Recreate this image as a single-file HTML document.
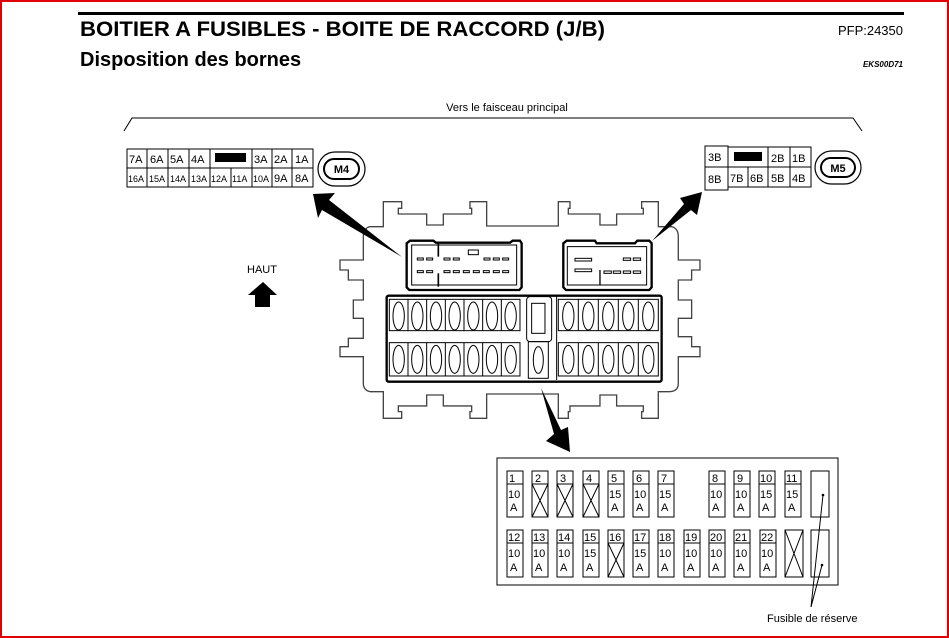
<!DOCTYPE html>
<html><head><meta charset="utf-8"><style>
html,body{margin:0;padding:0;background:#fff}
svg{display:block}
text{font-family:"Liberation Sans",sans-serif;fill:#000}
</style></head><body>
<svg width="949" height="638" viewBox="0 0 949 638" xmlns="http://www.w3.org/2000/svg">
<rect x="1" y="1" width="947" height="636" fill="#fff" stroke="#e00000" stroke-width="2"/>
<rect x="78" y="12" width="826" height="3" fill="#000"/>
<text x="80" y="36" font-size="21" font-weight="bold" textLength="525" lengthAdjust="spacingAndGlyphs">BOITIER A FUSIBLES - BOITE DE RACCORD (J/B)</text>
<text x="903" y="35" font-size="13" text-anchor="end">PFP:24350</text>
<text x="80" y="66" font-size="20" font-weight="bold">Disposition des bornes</text>
<text x="903" y="67" font-size="8" font-style="italic" font-weight="bold" text-anchor="end">EKS00D71</text>
<text x="507" y="111" font-size="11" text-anchor="middle">Vers le faisceau principal</text>
<polyline points="124,131 132,118 853,118 862,131" fill="none" stroke="#000" stroke-width="1"/>

<!-- M4 table -->
<g fill="none" stroke="#000" stroke-width="1">
<rect x="127" y="149" width="186" height="38"/>
<line x1="127" y1="168" x2="313" y2="168"/>
<line x1="147" y1="149" x2="147" y2="187"/><line x1="168" y1="149" x2="168" y2="187"/>
<line x1="189" y1="149" x2="189" y2="187"/><line x1="210" y1="149" x2="210" y2="187"/>
<line x1="231" y1="168" x2="231" y2="187"/><line x1="252" y1="149" x2="252" y2="187"/>
<line x1="272" y1="149" x2="272" y2="187"/><line x1="292" y1="149" x2="292" y2="187"/>
</g>
<rect x="215" y="153" width="31" height="9" fill="#000"/>
<g font-size="11">
<text x="129" y="163">7A</text><text x="150" y="163">6A</text><text x="170" y="163">5A</text><text x="191" y="163">4A</text>
<text x="254" y="163">3A</text><text x="274" y="163">2A</text><text x="295" y="163">1A</text>
</g>
<g font-size="9">
<text x="128" y="182">16A</text><text x="149" y="182">15A</text><text x="170" y="182">14A</text><text x="191" y="182">13A</text>
<text x="211" y="182">12A</text><text x="232" y="182">11A</text><text x="253" y="182">10A</text>
</g>
<g font-size="11"><text x="274" y="182">9A</text><text x="295" y="182">8A</text></g>
<rect x="318" y="152" width="47" height="34" rx="17" fill="none" stroke="#000" stroke-width="1.2"/>
<rect x="324" y="159" width="35" height="20" rx="10" fill="none" stroke="#000" stroke-width="2"/>
<text x="341.5" y="173" font-size="11" font-weight="bold" text-anchor="middle">M4</text>

<!-- M5 table -->
<g fill="none" stroke="#000" stroke-width="1">
<rect x="705" y="146" width="23" height="44"/>
<line x1="705" y1="167" x2="728" y2="167"/>
<rect x="728" y="147" width="83" height="40"/>
<line x1="728" y1="167" x2="811" y2="167"/>
<line x1="768" y1="147" x2="768" y2="187"/><line x1="790" y1="147" x2="790" y2="187"/>
<line x1="748" y1="167" x2="748" y2="187"/>
</g>
<rect x="734" y="152" width="28" height="9" fill="#000"/>
<g font-size="11">
<text x="708" y="161">3B</text><text x="708" y="183">8B</text>
<text x="771" y="162">2B</text><text x="792" y="162">1B</text>
<text x="730" y="182">7B</text><text x="750" y="182">6B</text><text x="771" y="182">5B</text><text x="792" y="182">4B</text>
</g>
<rect x="815" y="151" width="46" height="33" rx="16.5" fill="none" stroke="#000" stroke-width="1.2"/>
<rect x="821" y="158" width="34" height="19" rx="9.5" fill="none" stroke="#000" stroke-width="2"/>
<text x="838" y="172" font-size="11" font-weight="bold" text-anchor="middle">M5</text>

<!-- HAUT -->
<text x="262" y="273" font-size="11" text-anchor="middle">HAUT</text>
<polygon points="263,282 277,295 270,295 270,307 255,307 255,295 248,295" fill="#000"/>

<!-- Housing (drawn in 3x zoom coords) -->
<g transform="translate(330,190) scale(0.3333)" fill="none" stroke="#000">
<path stroke-width="4" stroke="#444" d="M120,110 L160,110 L160,35 L215,35 L215,55 L205,55 L205,72 L290,72 L290,105 L340,105 L340,72 L425,72 L425,55 L420,55 L420,35 L470,35 L470,108 L685,108 L685,35 L720,35 L720,55 L715,55 L715,72 L810,72 L810,105 L860,105 L860,72 L940,72 L940,55 L935,55 L935,35 L985,35 L985,110 L1025,110 Q1045,115 1045,140 L1045,210 L1110,210 L1110,240 L1085,240 L1085,270 L1045,270 L1045,330 L1085,330 L1085,385 L1045,385 L1045,440 L1085,440 L1085,470 L1110,470 L1110,500 L1045,500 L1045,580 Q1045,603 1020,605 L985,605 L985,685 L935,685 L935,665 L940,665 L940,648 L860,648 L860,615 L810,615 L810,648 L720,648 L720,665 L715,665 L715,685 L685,685 L685,612 L470,612 L470,685 L420,685 L420,665 L425,665 L425,648 L340,648 L340,615 L290,615 L290,648 L205,648 L205,665 L215,665 L215,685 L160,685 L160,605 L120,605 Q100,600 100,580 L100,500 L30,500 L30,470 L55,470 L55,445 L100,445 L100,385 L70,385 L70,330 L100,330 L100,270 L55,270 L55,240 L30,240 L30,210 L100,210 L100,140 Q100,115 120,110 Z"/>
<!-- left connector -->
<path stroke-width="7" d="M240,152 L310,152 L318,158 L540,158 L548,152 L570,152 L575,160 L575,292 L568,300 L238,300 L230,292 L230,160 Z"/>
<path stroke-width="3" d="M245,165 L560,165 L560,285 L245,285 Z"/>
<line x1="325" y1="160" x2="325" y2="200" stroke-width="5"/><line x1="325" y1="250" x2="325" y2="290" stroke-width="5"/>
<rect x="415" y="180" width="30" height="14" stroke-width="3"/>
<g stroke-width="3">
<rect x="262" y="204" width="18" height="6"/><rect x="290" y="204" width="18" height="6"/><rect x="342" y="204" width="18" height="6"/><rect x="370" y="204" width="18" height="6"/>
<rect x="462" y="204" width="18" height="6"/><rect x="490" y="204" width="18" height="6"/><rect x="518" y="204" width="18" height="6"/>
<rect x="262" y="242" width="18" height="6"/><rect x="290" y="242" width="18" height="6"/><rect x="342" y="242" width="18" height="6"/><rect x="370" y="242" width="18" height="6"/><rect x="400" y="242" width="18" height="6"/><rect x="430" y="242" width="18" height="6"/><rect x="460" y="242" width="18" height="6"/><rect x="490" y="242" width="18" height="6"/><rect x="518" y="242" width="18" height="6"/>
</g>
<!-- right connector -->
<path stroke-width="7" d="M710,152 L795,152 L800,160 L915,160 L922,152 L958,152 L965,160 L965,292 L958,300 L708,300 L700,292 L700,160 Z"/>
<path stroke-width="3" d="M712,170 L950,170 L950,285 L712,285 Z"/>
<line x1="810" y1="240" x2="810" y2="285" stroke-width="4"/>
<g stroke-width="3">
<rect x="735" y="205" width="50" height="8"/><rect x="735" y="237" width="50" height="8"/>
<rect x="880" y="204" width="22" height="7"/><rect x="910" y="204" width="22" height="7"/>
<rect x="822" y="243" width="22" height="7"/><rect x="850" y="243" width="22" height="7"/><rect x="880" y="243" width="22" height="7"/><rect x="910" y="243" width="22" height="7"/>
</g>
<!-- fuse panel -->
<rect x="170" y="317" width="825" height="258" rx="6" stroke-width="7"/>
<g stroke-width="3">
<rect x="178" y="328" width="392" height="94"/><rect x="178" y="458" width="392" height="100"/>
<rect x="685" y="328" width="300" height="94"/><rect x="685" y="458" width="300" height="100"/>
<line x1="234" y1="328" x2="234" y2="422"/><line x1="290" y1="328" x2="290" y2="422"/><line x1="346" y1="328" x2="346" y2="422"/><line x1="402" y1="328" x2="402" y2="422"/><line x1="458" y1="328" x2="458" y2="422"/><line x1="514" y1="328" x2="514" y2="422"/>
<line x1="234" y1="458" x2="234" y2="558"/><line x1="290" y1="458" x2="290" y2="558"/><line x1="346" y1="458" x2="346" y2="558"/><line x1="402" y1="458" x2="402" y2="558"/><line x1="458" y1="458" x2="458" y2="558"/><line x1="514" y1="458" x2="514" y2="558"/>
<line x1="745" y1="328" x2="745" y2="422"/><line x1="805" y1="328" x2="805" y2="422"/><line x1="865" y1="328" x2="865" y2="422"/><line x1="925" y1="328" x2="925" y2="422"/>
<line x1="745" y1="458" x2="745" y2="558"/><line x1="805" y1="458" x2="805" y2="558"/><line x1="865" y1="458" x2="865" y2="558"/><line x1="925" y1="458" x2="925" y2="558"/>
<ellipse cx="206" cy="378" rx="17" ry="42"/><ellipse cx="262" cy="378" rx="17" ry="42"/><ellipse cx="318" cy="378" rx="17" ry="42"/><ellipse cx="374" cy="378" rx="17" ry="42"/><ellipse cx="430" cy="378" rx="17" ry="42"/><ellipse cx="486" cy="378" rx="17" ry="42"/><ellipse cx="542" cy="378" rx="17" ry="42"/>
<ellipse cx="206" cy="508" rx="17" ry="42"/><ellipse cx="262" cy="508" rx="17" ry="42"/><ellipse cx="318" cy="508" rx="17" ry="42"/><ellipse cx="374" cy="508" rx="17" ry="42"/><ellipse cx="430" cy="508" rx="17" ry="42"/><ellipse cx="486" cy="508" rx="17" ry="42"/><ellipse cx="542" cy="508" rx="17" ry="42"/>
<ellipse cx="715" cy="378" rx="17" ry="42"/><ellipse cx="775" cy="378" rx="17" ry="42"/><ellipse cx="835" cy="378" rx="17" ry="42"/><ellipse cx="895" cy="378" rx="17" ry="42"/><ellipse cx="955" cy="378" rx="17" ry="42"/>
<ellipse cx="715" cy="508" rx="17" ry="42"/><ellipse cx="775" cy="508" rx="17" ry="42"/><ellipse cx="835" cy="508" rx="17" ry="42"/><ellipse cx="895" cy="508" rx="17" ry="42"/><ellipse cx="955" cy="508" rx="17" ry="42"/>
<rect x="590" y="320" width="75" height="135" rx="10"/>
<rect x="605" y="340" width="40" height="90"/>
<rect x="595" y="455" width="60" height="110"/>
<ellipse cx="625" cy="510" rx="15" ry="40"/>
<line x1="680" y1="320" x2="680" y2="570"/>
</g>
</g>

<!-- Big wedge arrows -->
<polygon points="313,194 335,193 329,200 402,257 322,210 318,218" fill="#000"/>
<polygon points="702,192 697,215 691,210 652,241 684,204 680,198" fill="#000"/>
<polygon points="570,452 546,441 554,434 541,388 561,430 568,427" fill="#000"/>

<!-- Fuse table -->
<rect x="497" y="458" width="341" height="127" fill="none" stroke="#000" stroke-width="1"/>
<g fill="none" stroke="#000" stroke-width="1">
<rect x="507" y="471" width="16" height="46"/><line x1="507" y1="484" x2="523" y2="484"/>
<rect x="532" y="471" width="16" height="46"/><line x1="532" y1="484" x2="548" y2="484"/><path d="M532,484 L548,517 M548,484 L532,517"/>
<rect x="557" y="471" width="16" height="46"/><line x1="557" y1="484" x2="573" y2="484"/><path d="M557,484 L573,517 M573,484 L557,517"/>
<rect x="583" y="471" width="16" height="46"/><line x1="583" y1="484" x2="599" y2="484"/><path d="M583,484 L599,517 M599,484 L583,517"/>
<rect x="608" y="471" width="16" height="46"/><line x1="608" y1="484" x2="624" y2="484"/>
<rect x="633" y="471" width="16" height="46"/><line x1="633" y1="484" x2="649" y2="484"/>
<rect x="658" y="471" width="16" height="46"/><line x1="658" y1="484" x2="674" y2="484"/>
<rect x="709" y="471" width="16" height="46"/><line x1="709" y1="484" x2="725" y2="484"/>
<rect x="734" y="471" width="16" height="46"/><line x1="734" y1="484" x2="750" y2="484"/>
<rect x="759" y="471" width="16" height="46"/><line x1="759" y1="484" x2="775" y2="484"/>
<rect x="785" y="471" width="16" height="46"/><line x1="785" y1="484" x2="801" y2="484"/>
<rect x="811" y="471" width="18" height="46"/>
<rect x="507" y="530" width="16" height="47"/><line x1="507" y1="543" x2="523" y2="543"/>
<rect x="532" y="530" width="16" height="47"/><line x1="532" y1="543" x2="548" y2="543"/>
<rect x="557" y="530" width="16" height="47"/><line x1="557" y1="543" x2="573" y2="543"/>
<rect x="583" y="530" width="16" height="47"/><line x1="583" y1="543" x2="599" y2="543"/>
<rect x="608" y="530" width="16" height="47"/><line x1="608" y1="543" x2="624" y2="543"/><path d="M608,543 L624,577 M624,543 L608,577"/>
<rect x="633" y="530" width="16" height="47"/><line x1="633" y1="543" x2="649" y2="543"/>
<rect x="658" y="530" width="16" height="47"/><line x1="658" y1="543" x2="674" y2="543"/>
<rect x="684" y="530" width="16" height="47"/><line x1="684" y1="543" x2="700" y2="543"/>
<rect x="709" y="530" width="16" height="47"/><line x1="709" y1="543" x2="725" y2="543"/>
<rect x="734" y="530" width="16" height="47"/><line x1="734" y1="543" x2="750" y2="543"/>
<rect x="760" y="530" width="16" height="47"/><line x1="760" y1="543" x2="776" y2="543"/>
<rect x="785" y="530" width="18" height="47"/><path d="M785,530 L803,577 M803,530 L785,577"/>
<rect x="811" y="530" width="18" height="47"/>
<path d="M823,495 L811,607 M822,565 L811,607"/>
</g>
<circle cx="823" cy="495" r="1.3" fill="#000"/><circle cx="822" cy="565" r="1.3" fill="#000"/>
<g font-size="11">
<text x="509" y="482">1</text><text x="535" y="482">2</text><text x="560" y="482">3</text><text x="586" y="482">4</text><text x="611" y="482">5</text><text x="636" y="482">6</text><text x="661" y="482">7</text>
<text x="712" y="482">8</text><text x="737" y="482">9</text><text x="760" y="482">10</text><text x="786" y="482">11</text>
<text x="508" y="498">10</text><text x="510" y="511">A</text>
<text x="609" y="498">15</text><text x="611" y="511">A</text>
<text x="634" y="498">10</text><text x="636" y="511">A</text>
<text x="659" y="498">15</text><text x="661" y="511">A</text>
<text x="710" y="498">10</text><text x="712" y="511">A</text>
<text x="735" y="498">10</text><text x="737" y="511">A</text>
<text x="760" y="498">15</text><text x="762" y="511">A</text>
<text x="786" y="498">15</text><text x="788" y="511">A</text>
<text x="508" y="541">12</text><text x="533" y="541">13</text><text x="558" y="541">14</text><text x="584" y="541">15</text><text x="609" y="541">16</text><text x="634" y="541">17</text><text x="659" y="541">18</text><text x="685" y="541">19</text><text x="710" y="541">20</text><text x="735" y="541">21</text><text x="761" y="541">22</text>
<text x="508" y="557">10</text><text x="510" y="571">A</text>
<text x="533" y="557">10</text><text x="535" y="571">A</text>
<text x="558" y="557">10</text><text x="560" y="571">A</text>
<text x="584" y="557">15</text><text x="586" y="571">A</text>
<text x="634" y="557">15</text><text x="636" y="571">A</text>
<text x="659" y="557">10</text><text x="661" y="571">A</text>
<text x="685" y="557">10</text><text x="687" y="571">A</text>
<text x="710" y="557">10</text><text x="712" y="571">A</text>
<text x="735" y="557">10</text><text x="737" y="571">A</text>
<text x="761" y="557">10</text><text x="763" y="571">A</text>
</g>
<text x="767" y="622" font-size="11">Fusible de réserve</text>
</svg>
</body></html>
